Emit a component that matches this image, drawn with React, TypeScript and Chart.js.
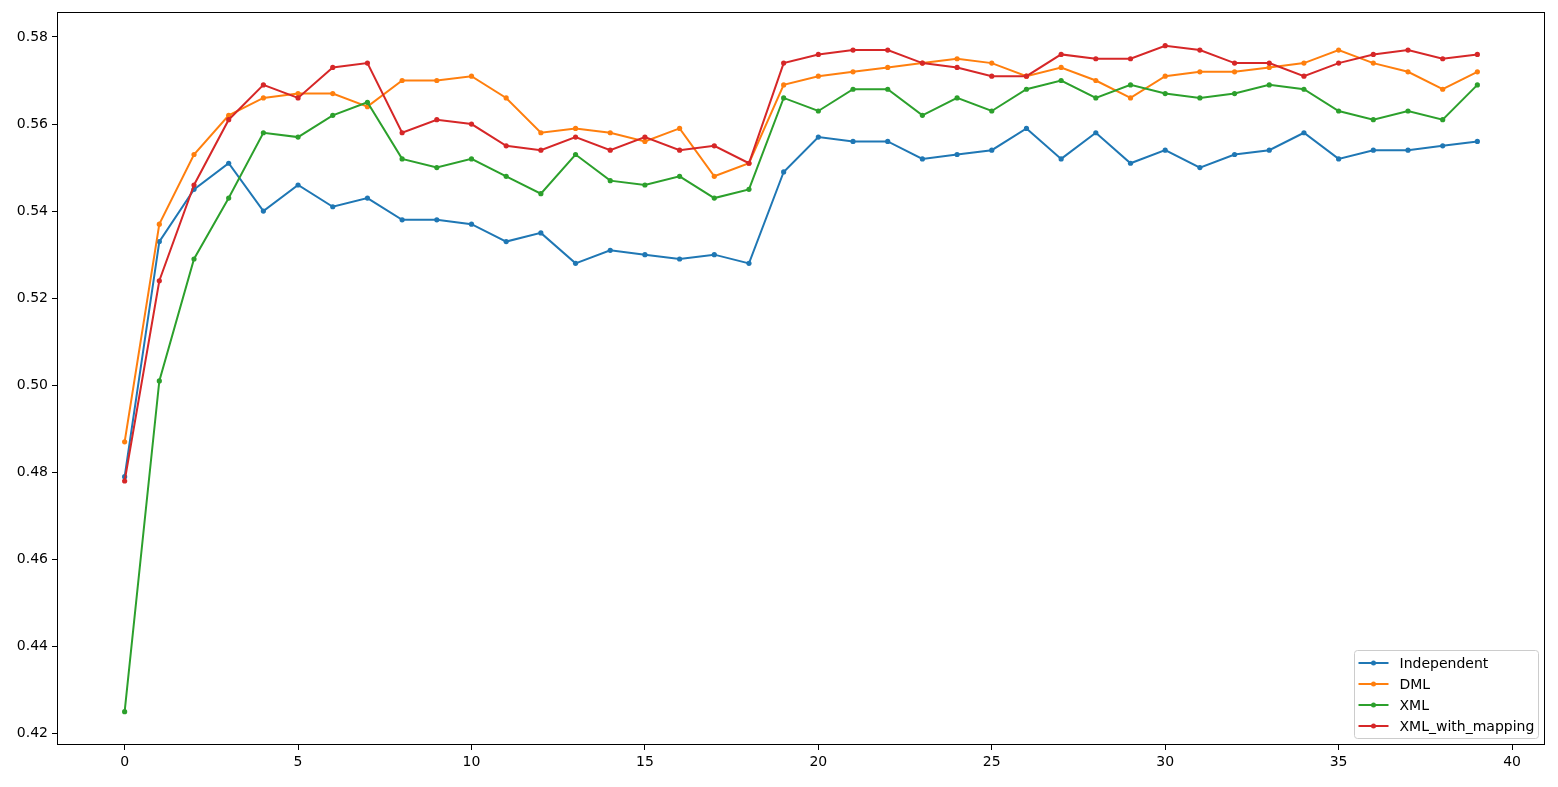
import React, { useEffect, useRef } from "react";
import { Chart, registerables } from "chart.js";

Chart.register(...registerables);

const epochs = [0, 1, 2, 3, 4, 5, 6, 7, 8, 9, 10, 11, 12, 13, 14, 15, 16, 17, 18, 19, 20, 21, 22, 23, 24, 25, 26, 27, 28, 29, 30, 31, 32, 33, 34, 35, 36, 37, 38, 39];

const independent = [0.479, 0.533, 0.545, 0.551, 0.540, 0.546, 0.541, 0.543, 0.538, 0.538, 0.537, 0.533, 0.535, 0.528, 0.531, 0.530, 0.529, 0.530, 0.528, 0.549, 0.557, 0.556, 0.556, 0.552, 0.553, 0.554, 0.559, 0.552, 0.558, 0.551, 0.554, 0.550, 0.553, 0.554, 0.558, 0.552, 0.554, 0.554, 0.555, 0.556];
const dml = [0.487, 0.537, 0.553, 0.562, 0.566, 0.567, 0.567, 0.564, 0.570, 0.570, 0.571, 0.566, 0.558, 0.559, 0.558, 0.556, 0.559, 0.548, 0.551, 0.569, 0.571, 0.572, 0.573, 0.574, 0.575, 0.574, 0.571, 0.573, 0.570, 0.566, 0.571, 0.572, 0.572, 0.573, 0.574, 0.577, 0.574, 0.572, 0.568, 0.572];
const xml = [0.425, 0.501, 0.529, 0.543, 0.558, 0.557, 0.562, 0.565, 0.552, 0.550, 0.552, 0.548, 0.544, 0.553, 0.547, 0.546, 0.548, 0.543, 0.545, 0.566, 0.563, 0.568, 0.568, 0.562, 0.566, 0.563, 0.568, 0.570, 0.566, 0.569, 0.567, 0.566, 0.567, 0.569, 0.568, 0.563, 0.561, 0.563, 0.561, 0.569];
const xmlWithMapping = [0.478, 0.524, 0.546, 0.561, 0.569, 0.566, 0.573, 0.574, 0.558, 0.561, 0.560, 0.555, 0.554, 0.557, 0.554, 0.557, 0.554, 0.555, 0.551, 0.574, 0.576, 0.577, 0.577, 0.574, 0.573, 0.571, 0.571, 0.576, 0.575, 0.575, 0.578, 0.577, 0.574, 0.574, 0.571, 0.574, 0.576, 0.577, 0.575, 0.576];

const seriesNames = ["Independent", "DML", "XML", "XML_with_mapping"];
const seriesValues = [independent, dml, xml, xmlWithMapping];
const seriesColors = ["#1f77b4", "#ff7f0e", "#2ca02c", "#d62728"];

const xTicks = [0, 5, 10, 15, 20, 25, 30, 35, 40];
const yTicks = [0.42, 0.44, 0.46, 0.48, 0.5, 0.52, 0.54, 0.56, 0.58];

const FONT = "'DejaVu Sans', sans-serif";

const framePlugin = {
  id: "frame",
  afterDatasetsDraw(chart: any) {
    const { ctx, chartArea } = chart;
    ctx.save();
    ctx.strokeStyle = "#000";
    ctx.lineWidth = 1;
    const l = Math.round(chartArea.left) + 0.5;
    const t = Math.round(chartArea.top) + 0.5;
    const r = Math.round(chartArea.right) - 0.5;
    const b = Math.round(chartArea.bottom) - 0.5;
    ctx.strokeRect(l, t, r - l, b - t);
    ctx.restore();
  },
};

const legendPlugin = {
  id: "mplLegend",
  afterDraw(chart: any) {
    const { ctx, chartArea } = chart;
    const ds = chart.data.datasets;
    const w = 184;
    const h = 88;
    const x = chartArea.right - 7 - w + 0.5;
    const y = chartArea.bottom - 7 - h + 0.5;
    ctx.save();
    ctx.beginPath();
    ctx.roundRect(x, y, w, h, 3);
    ctx.fillStyle = "rgba(255,255,255,0.8)";
    ctx.fill();
    ctx.strokeStyle = "#cccccc";
    ctx.lineWidth = 1;
    ctx.stroke();
    ctx.font = `14px ${FONT}`;
    ctx.textBaseline = "middle";
    ctx.textAlign = "left";
    for (let i = 0; i < ds.length; i++) {
      const cy = y + 12.5 + i * 21;
      ctx.strokeStyle = ds[i].borderColor;
      ctx.lineWidth = 2;
      ctx.beginPath();
      ctx.moveTo(x + 4, cy);
      ctx.lineTo(x + 34, cy);
      ctx.stroke();
      ctx.fillStyle = ds[i].borderColor;
      ctx.beginPath();
      ctx.arc(x + 19, cy, 2.5, 0, Math.PI * 2);
      ctx.fill();
      ctx.fillStyle = "#000";
      ctx.fillText(ds[i].label, x + 45, cy + 1);
    }
    ctx.restore();
  },
};

export default function App() {
  const canvasRef = useRef<HTMLCanvasElement | null>(null);

  useEffect(() => {
    if (!canvasRef.current) return;
    const datasets = seriesNames.map((name, s) => ({
      label: name,
      data: epochs.map((e, i) => ({ x: e, y: seriesValues[s][i] })),
      borderColor: seriesColors[s],
      backgroundColor: seriesColors[s],
      pointBackgroundColor: seriesColors[s],
      pointBorderWidth: 0,
      pointRadius: 2.6,
      pointHoverRadius: 2.6,
      borderWidth: 2,
      tension: 0,
      fill: false,
      order: seriesNames.length - 1 - s,
    }));
    const chart = new Chart(canvasRef.current, {
      type: "line",
      data: { datasets },
      options: {
        animation: false,
        responsive: true,
        maintainAspectRatio: false,
        layout: { padding: { top: 9, right: 13, left: 0, bottom: 0 } },
        plugins: {
          legend: { display: false },
          tooltip: { enabled: false },
        },
        events: [],
        scales: {
          x: {
            type: "linear",
            min: -1.95,
            max: 40.95,
            afterFit(scale: any) {
              scale.height = 42;
            },
            afterBuildTicks(scale: any) {
              scale.ticks = xTicks.map((v) => ({ value: v }));
            },
            ticks: {
              autoSkip: false,
              maxRotation: 0,
              padding: 4,
              color: "#000",
              font: { family: FONT, size: 14 },
              callback: (v: any) => String(v),
            },
            grid: {
              display: true,
              drawOnChartArea: false,
              drawTicks: true,
              tickLength: 5,
              color: "#000",
            },
            border: { display: false },
          },
          y: {
            type: "linear",
            min: 0.41735,
            max: 0.58565,
            afterFit(scale: any) {
              scale.width = 57;
            },
            afterBuildTicks(scale: any) {
              scale.ticks = yTicks.map((v) => ({ value: v }));
            },
            ticks: {
              autoSkip: false,
              padding: 4,
              color: "#000",
              font: { family: FONT, size: 14 },
              callback: (v: any) => Number(v).toFixed(2),
            },
            grid: {
              display: true,
              drawOnChartArea: false,
              drawTicks: true,
              tickLength: 5,
              color: "#000",
            },
            border: { display: false },
          },
        },
      },
      plugins: [framePlugin, legendPlugin],
    } as any);
    return () => chart.destroy();
  }, []);

  return (
    <div style={{ position: "fixed", left: 0, top: 0, width: 1558, height: 787, background: "#fff" }}>
      <canvas ref={canvasRef} />
    </div>
  );
}
